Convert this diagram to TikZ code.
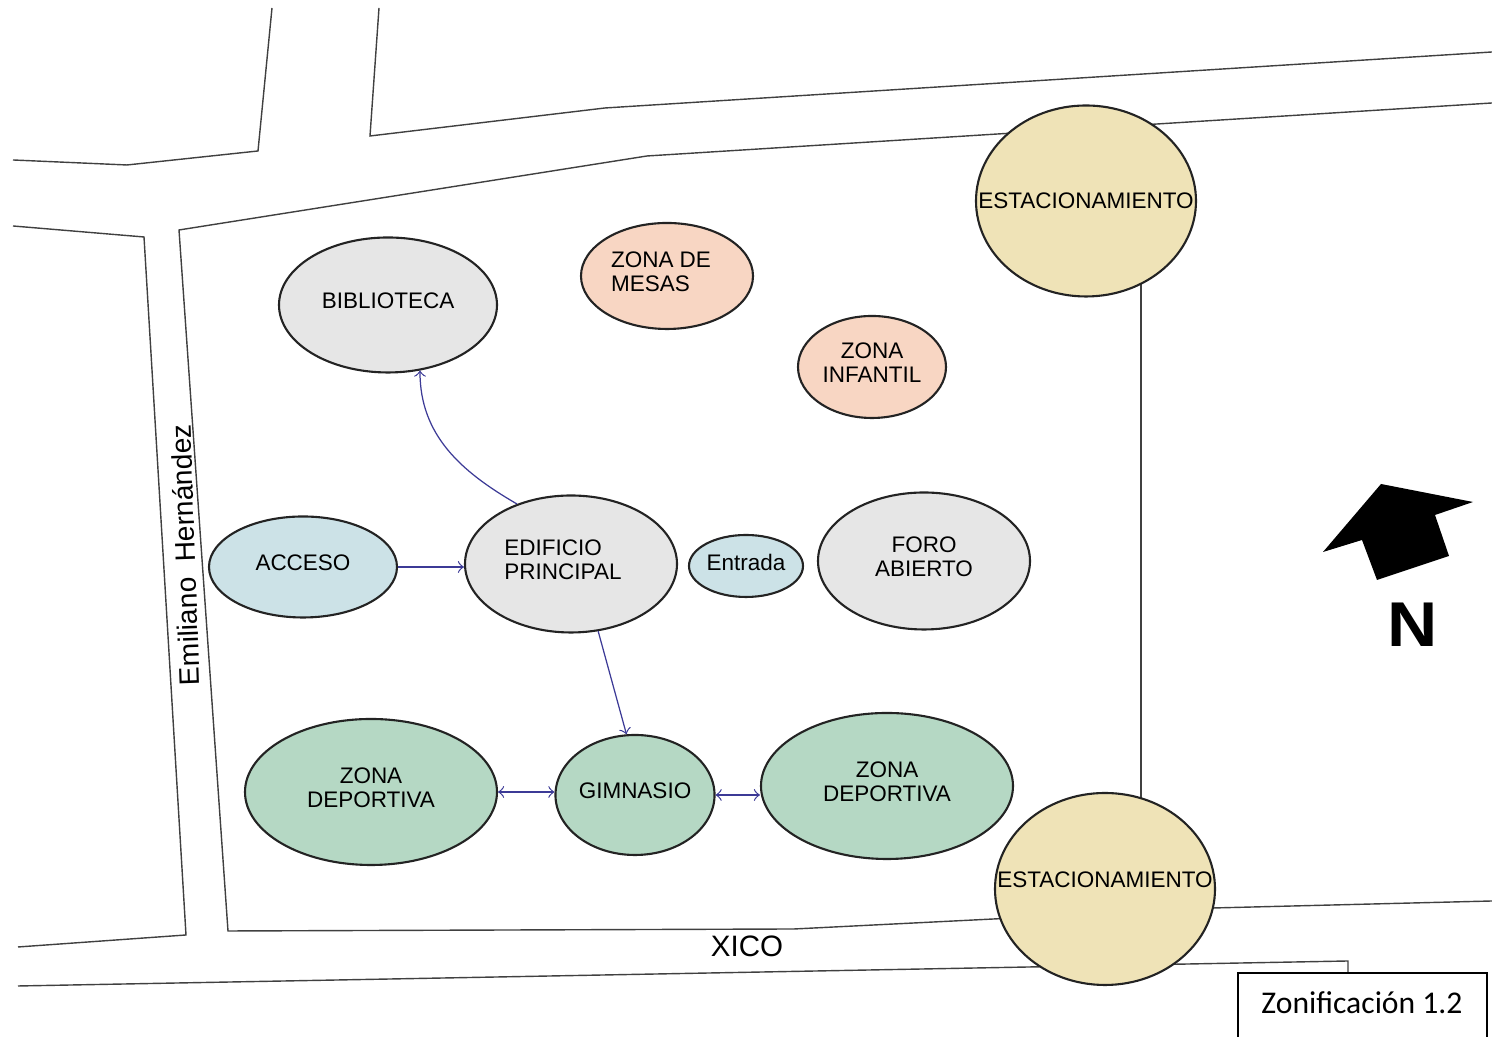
\documentclass[tikz,border=0pt]{standalone}
\usepackage{fontspec}
\setmainfont{Liberation Sans}
\newfontfamily\rotulofont{Carlito}
\usetikzlibrary{shapes,arrows,positioning}
\definecolor{cgris}{RGB}{230,230,230}
\definecolor{cceleste}{RGB}{204,226,231}
\definecolor{cdurazno}{RGB}{248,214,195}
\definecolor{cverde}{RGB}{181,216,196}
\definecolor{carena}{RGB}{239,227,183}
\definecolor{cflecha}{RGB}{60,58,150}
\definecolor{cborde}{RGB}{35,35,35}

\begin{document}
\begin{tikzpicture}[
    font=\fontsize{6.4}{6.8}\selectfont,
    zona/.style={ellipse, draw=cborde, line width=0.6pt, inner sep=0pt, align=center, text depth=0.08cm},
    gris/.style={zona, fill=cgris},
    celeste/.style={zona, fill=cceleste},
    durazno/.style={zona, fill=cdurazno},
    verde/.style={zona, fill=cverde},
    arena/.style={zona, fill=carena, minimum width=2.2cm},
    calle/.style={draw=black!75, line width=0.4pt},
    flecha/.style={->, draw=cflecha, line width=0.35pt},
    dobleflecha/.style={<->, draw=cflecha, line width=0.35pt}
]
\useasboundingbox (0,0) rectangle (14.92,10.37);

% Calles y terreno
\draw[calle] (2.72,10.29) -- (2.58,8.86) -- (1.27,8.72) -- (0.13,8.77);
\draw[calle] (3.79,10.29) -- (3.70,9.01) -- (6.05,9.29) -- (14.92,9.85);
\draw[calle] (14.92,9.34) -- (6.47,8.81) -- (1.79,8.07) -- (2.28,1.06) -- (7.94,1.08) -- (12.13,1.29) -- (14.92,1.36);
\draw[calle] (0.13,8.11) -- (1.44,8.00) -- (1.86,1.02) -- (0.18,0.90);
\draw[calle] (0.18,0.51) -- (13.48,0.76) -- (13.48,0.65);
\draw[calle] (11.41,7.57) -- (11.41,2.37);

% Nombres de calles
\node[font=\fontsize{8}{10}\selectfont, rotate=92] (emiliano) at (1.85,4.82) {Emiliano\ \ Hernández};
\node[font=\fontsize{8.4}{10}\selectfont] (xico) at (7.47,0.91) {XICO};

% Estacionamientos
\node[arena, minimum height=1.91cm, label=center:ESTACIONAMIENTO] (estA) at (10.86,8.36) {};
\node[arena, minimum height=1.92cm, label={[yshift=0.09cm]center:ESTACIONAMIENTO}] (estB) at (11.05,1.48) {};

% Zonas
\node[gris, minimum width=2.18cm, minimum height=1.35cm] (biblioteca) at (3.88,7.32) {BIBLIOTECA};
\node[durazno, align=left, minimum width=1.72cm, minimum height=1.06cm] (mesas) at (6.67,7.61) {ZONA DE\hspace*{0.12cm}\\MESAS};
\node[durazno, minimum width=1.48cm, minimum height=1.02cm] (infantil) at (8.72,6.70) {ZONA\\INFANTIL};
\node[celeste, minimum width=1.88cm, minimum height=1.01cm] (acceso) at (3.03,4.70) {ACCESO};
\node[gris, align=left, minimum width=2.12cm, minimum height=1.37cm] (edificio) at (5.71,4.73) {EDIFICIO\\PRINCIPAL\hspace*{0.16cm}};
\node[celeste, minimum width=1.14cm, minimum height=0.62cm] (entrada) at (7.46,4.71) {Entrada};
\node[gris, minimum width=2.12cm, minimum height=1.37cm] (foro) at (9.24,4.76) {FORO\\ABIERTO};
\node[verde, minimum width=2.52cm, minimum height=1.46cm] (deportiva1) at (3.71,2.45) {ZONA\\DEPORTIVA};
\node[verde, minimum width=1.56cm, minimum height=1.20cm] (gimnasio) at (6.35,2.42) {GIMNASIO};
\node[verde, minimum width=2.52cm, minimum height=1.46cm] (deportiva2) at (8.87,2.51) {ZONA\\DEPORTIVA};

% Relaciones
\draw[flecha] (acceso.east) -- (acceso.east -| edificio.west);
\draw[flecha] (edificio.132) to[out=150,in=-90] (biblioteca.-64);
\draw[flecha] (edificio.-68) -- (gimnasio.98);
\draw[dobleflecha] (deportiva1.east) -- (deportiva1.east -| gimnasio.west);
\draw[dobleflecha] (gimnasio.east) -- (gimnasio.east -| deportiva2.west);

% Norte
\fill (13.81,5.53) -- (14.73,5.35) -- (14.35,5.22) -- (14.49,4.81) -- (13.77,4.57) -- (13.62,4.97) -- (13.23,4.85) -- cycle;
\node[font=\fontsize{18}{20}\selectfont\bfseries, xscale=1.1] (norte) at (14.13,4.12) {N};

% Rotulo
\draw (12.38,-0.1) rectangle (14.87,0.64);
\node[font=\rotulofont\fontsize{9}{11}\selectfont] (rotulo) at (13.62,0.34) {Zonificación 1.2};

\end{tikzpicture}
\end{document}
